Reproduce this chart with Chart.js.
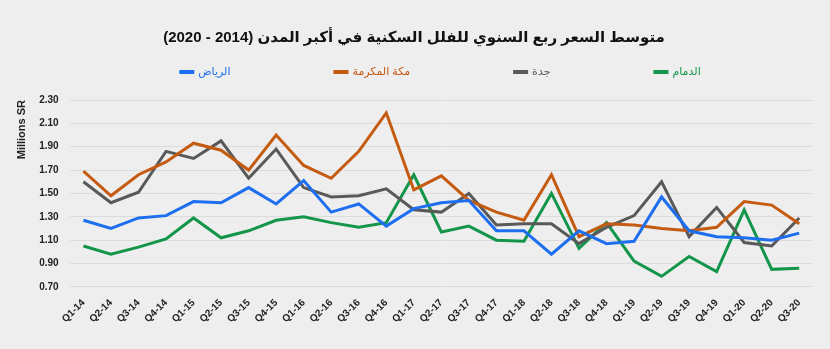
<!DOCTYPE html>
<html>
<head>
<meta charset="utf-8">
<script src="https://cdn.jsdelivr.net/npm/chart.js@4/dist/chart.umd.min.js"></script>
<style>
    html, body { margin: 0; padding: 0; background: #eeeeee; }
    #wrap { width: 830px; height: 349px; }
</style>
</head>
<body>
<div id="wrap"><canvas id="villaChart"></canvas></div>
<script>
const quarters = ['Q1-14', 'Q2-14', 'Q3-14', 'Q4-14', 'Q1-15', 'Q2-15', 'Q3-15', 'Q4-15',
    'Q1-16', 'Q2-16', 'Q3-16', 'Q4-16', 'Q1-17', 'Q2-17', 'Q3-17', 'Q4-17',
    'Q1-18', 'Q2-18', 'Q3-18', 'Q4-18', 'Q1-19', 'Q2-19', 'Q3-19', 'Q4-19',
    'Q1-20', 'Q2-20', 'Q3-20'];

const riyadh = [1.27, 1.20, 1.29, 1.31, 1.43, 1.42, 1.55, 1.41,
    1.61, 1.34, 1.41, 1.22, 1.37, 1.42, 1.44, 1.18,
    1.18, 0.98, 1.18, 1.07, 1.09, 1.47, 1.18, 1.13,
    1.12, 1.10, 1.16];
const makkah = [1.69, 1.48, 1.66, 1.77, 1.93, 1.87, 1.70, 2.00,
    1.74, 1.63, 1.86, 2.19, 1.53, 1.65, 1.44, 1.34,
    1.27, 1.66, 1.13, 1.24, 1.23, 1.20, 1.18, 1.21,
    1.43, 1.40, 1.24];
const jeddah = [1.60, 1.42, 1.51, 1.86, 1.80, 1.95, 1.63, 1.88,
    1.55, 1.47, 1.48, 1.54, 1.36, 1.34, 1.50, 1.23,
    1.24, 1.24, 1.07, 1.21, 1.31, 1.60, 1.13, 1.38,
    1.08, 1.05, 1.29];
const dammam = [1.05, 0.98, 1.04, 1.11, 1.29, 1.12, 1.18, 1.27,
    1.30, 1.25, 1.21, 1.25, 1.66, 1.17, 1.22, 1.10,
    1.09, 1.50, 1.03, 1.25, 0.92, 0.79, 0.96, 0.83,
    1.36, 0.85, 0.86];

const cityNames = ['الرياض', 'مكة المكرمة', 'جدة', 'الدمام'];
const cityColors = ['#1e6ff0', '#c55a11', '#595959', '#13964a'];
const seriesValues = [riyadh, makkah, jeddah, dammam];

const fontFamily = "'Liberation Sans', 'DejaVu Sans', sans-serif";

const datasets = cityNames.map(function (name, i) {
    return {
        label: name,
        data: seriesValues[i],
        borderColor: cityColors[i],
        backgroundColor: cityColors[i],
        borderWidth: 3,
        pointRadius: 0,
        tension: 0,
        fill: false
    };
});

// legend drawn by hand: the built-in one adds its item padding vertically too
const spacedLegend = {
    id: 'spacedLegend',
    afterDraw(chart) {
        const ctx = chart.ctx;
        const gap = 103;
        const box = 15;
        const y = 72;
        ctx.save();
        ctx.font = '11px ' + fontFamily;
        const widths = chart.data.datasets.map(function (ds) {
            return box + 4 + ctx.measureText(ds.label).width;
        });
        const total = widths.reduce(function (a, b) { return a + b; }, 0) + gap * (widths.length - 1);
        let x = chart.width / 2 + 25 - total / 2;
        ctx.textBaseline = 'middle';
        ctx.textAlign = 'left';
        chart.data.datasets.forEach(function (ds, i) {
            ctx.fillStyle = ds.borderColor;
            ctx.fillRect(x, y - 2, box, 4);
            ctx.fillText(ds.label, x + box + 4, y);
            x += widths[i] + gap;
        });
        ctx.restore();
    }
};

const config = {
    type: 'line',
    data: { labels: quarters, datasets: datasets },
    options: {
        responsive: true,
        maintainAspectRatio: false,
        animation: false,
        layout: { padding: { left: 15, right: 17, top: 0, bottom: 22 } },
        plugins: {
            title: {
                display: true,
                text: 'متوسط السعر ربع السنوي للفلل السكنية في أكبر المدن (2014 - 2020)',
                color: '#111111',
                font: { family: fontFamily, size: 15, weight: 'bold' },
                padding: { top: 29, bottom: 53 }
            },
            legend: { display: false },
            tooltip: { enabled: false }
        },
        scales: {
            x: {
                offset: true,
                grid: { display: false },
                border: { display: false },
                ticks: {
                    color: '#222222',
                    minRotation: 45,
                    maxRotation: 45,
                    autoSkip: false,
                    padding: 2,
                    font: { family: fontFamily, size: 10, weight: 'bold' }
                }
            },
            y: {
                min: 0.7,
                max: 2.3,
                border: { display: false },
                grid: { color: '#dcdcdc', lineWidth: 1, drawTicks: false },
                ticks: {
                    stepSize: 0.2,
                    autoSkip: false,
                    padding: 11,
                    color: '#222222',
                    font: { family: fontFamily, size: 10, weight: 'bold' },
                    callback: function (v) { return v.toFixed(2); }
                },
                title: {
                    display: true,
                    text: 'Millions SR',
                    align: 'end',
                    color: '#222222',
                    padding: { top: 0, bottom: 0 },
                    font: { family: fontFamily, size: 11, weight: 'bold' }
                }
            }
        }
    },
    plugins: [spacedLegend]
};

new Chart(document.getElementById('villaChart'), config);
</script>
</body>
</html>
